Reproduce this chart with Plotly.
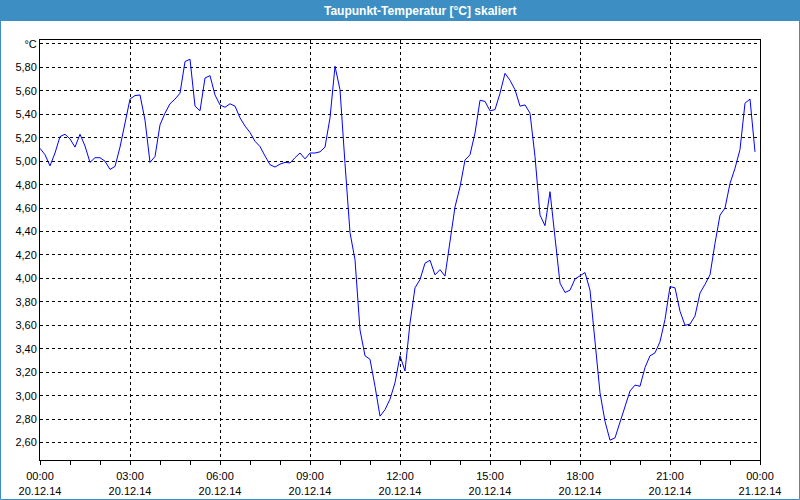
import plotly.graph_objects as go
import pandas as pd

# --- data (10-minute samples) ---
start_time = "2014-12-20 00:00"
sample_minutes = 10
dew_point = [
    5.11, 5.055, 4.96, 5.07, 5.21, 5.23, 5.19, 5.12, 5.23, 5.13,
    4.99, 5.03, 5.03, 5.00, 4.93, 4.955, 5.12, 5.32, 5.53, 5.56,
    5.565, 5.35, 4.99, 5.04, 5.31, 5.41, 5.49, 5.53, 5.58, 5.85,
    5.87, 5.47, 5.43, 5.71, 5.73, 5.565, 5.48, 5.46, 5.49, 5.47,
    5.37, 5.30, 5.245, 5.17, 5.125, 5.045, 4.97, 4.95, 4.975, 4.99,
    4.985, 5.03, 5.07, 5.02, 5.07, 5.07, 5.08, 5.12, 5.37, 5.81,
    5.61, 4.98, 4.39, 4.16, 3.56, 3.34, 3.31, 3.08, 2.825, 2.88,
    2.97, 3.11, 3.34, 3.21, 3.62, 3.92, 3.99, 4.13, 4.155, 4.03,
    4.075, 4.02, 4.33, 4.61, 4.78, 5.01, 5.055, 5.24, 5.52, 5.51,
    5.43, 5.44, 5.58, 5.75, 5.69, 5.61, 5.47, 5.48, 5.41, 5.04,
    4.54, 4.45, 4.74, 4.32, 3.96, 3.88, 3.90, 3.995, 4.02, 4.05,
    3.90, 3.45, 3.025, 2.78, 2.62, 2.64, 2.77, 2.895, 3.04, 3.09,
    3.08, 3.24, 3.34, 3.365, 3.46, 3.65, 3.93, 3.92, 3.72, 3.60,
    3.61, 3.68, 3.875, 3.95, 4.03, 4.30, 4.54, 4.60, 4.81, 4.94,
    5.10, 5.495, 5.53, 5.08,
]
times = pd.Timestamp(start_time) + pd.to_timedelta(
    [i * sample_minutes for i in range(len(dew_point))], unit="min")

y_tick_vals = [2.6, 2.8, 3.0, 3.2, 3.4, 3.6, 3.8, 4.0, 4.2, 4.4, 4.6, 4.8,
               5.0, 5.2, 5.4, 5.6, 5.8, 6.0]
y_tick_text = ["2,60", "2,80", "3,00", "3,20", "3,40", "3,60", "3,80", "4,00",
               "4,20", "4,40", "4,60", "4,80", "5,00", "5,20", "5,40", "5,60",
               "5,80", "°C"]
x_tick_vals = ["2014-12-20 00:00", "2014-12-20 03:00", "2014-12-20 06:00",
               "2014-12-20 09:00", "2014-12-20 12:00", "2014-12-20 15:00",
               "2014-12-20 18:00", "2014-12-20 21:00", "2014-12-21 00:00"]
x_tick_text = ["00:00<br>20.12.14", "03:00<br>20.12.14", "06:00<br>20.12.14",
               "09:00<br>20.12.14", "12:00<br>20.12.14", "15:00<br>20.12.14",
               "18:00<br>20.12.14", "21:00<br>20.12.14", "00:00<br>21.12.14"]
title_text = "Taupunkt-Temperatur [°C] skaliert"

W, H = 800, 500
L, R, T, B = 40, 40, 40, 40
pw, ph = W - L - R, H - T - B

def px_x(p):
    return (p - L) / pw

def px_y(p):
    return (H - B - p) / ph

fig = go.Figure()
fig.add_trace(go.Scatter(x=times, y=dew_point, mode="lines",
                         line=dict(color="#0000ff", width=1),
                         hoverinfo="x+y", showlegend=False))

font_main = "Liberation Sans, Arial, sans-serif"
bar_color = "#3d8fc3"

fig.update_layout(
    width=W, height=H,
    margin=dict(l=L, r=R, t=T, b=B, autoexpand=False),
    paper_bgcolor="white", plot_bgcolor="white",
    font=dict(family=font_main, size=11, color="black"),
    xaxis=dict(
        type="date", automargin=False,
        range=["2014-12-20 00:00", "2014-12-21 00:00"],
        tickmode="array", tickvals=x_tick_vals, ticktext=x_tick_text,
        ticks="outside", ticklen=4, tickcolor="black", tickwidth=1,
        ticklabelstandoff=2,
        showgrid=True, gridcolor="black", gridwidth=1, griddash="3px,3px",
        showline=True, linecolor="black", linewidth=1, mirror=True,
        zeroline=False,
        minor=dict(tickmode="linear", tick0="2014-12-20 00:00", dtick=3600000,
                   ticks="outside", ticklen=4, tickcolor="black", showgrid=False),
        tickfont=dict(family=font_main, size=11, color="black"),
    ),
    yaxis=dict(
        range=[2.451, 6.034], automargin=False,
        tickmode="array", tickvals=y_tick_vals, ticktext=y_tick_text,
        ticks="", showgrid=True, gridcolor="black", gridwidth=1,
        griddash="3px,3px",
        showline=True, linecolor="black", linewidth=1, mirror=True,
        zeroline=False,
        tickfont=dict(family=font_main, size=11, color="black"),
    ),
    shapes=[
        dict(type="rect", xref="paper", yref="paper",
             x0=px_x(0), x1=px_x(W), y0=px_y(21), y1=px_y(0),
             fillcolor=bar_color, line=dict(width=0), layer="above"),
        dict(type="rect", xref="paper", yref="paper",
             x0=px_x(0.5), x1=px_x(W - 0.5), y0=px_y(H - 0.5), y1=px_y(0.5),
             fillcolor="rgba(0,0,0,0)", line=dict(color=bar_color, width=1),
             layer="above"),
    ],
    annotations=[
        dict(text="<b>" + title_text + "</b>", xref="paper", yref="paper",
             x=px_x(420), y=px_y(10.5), xanchor="center", yanchor="middle",
             showarrow=False,
             font=dict(family=font_main, size=12, color="white")),
    ],
)

fig.write_html("out.html")
